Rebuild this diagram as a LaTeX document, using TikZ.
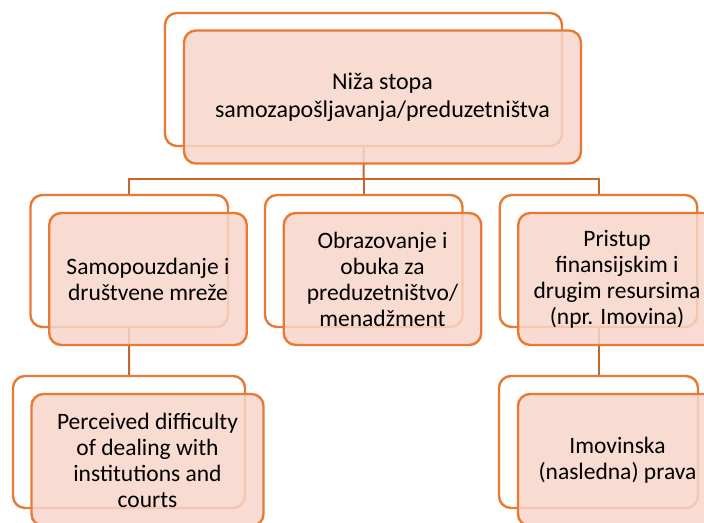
\documentclass[tikz,border=0pt]{standalone}
\usepackage{fontspec}
\setmainfont{Carlito}
\definecolor{boxline}{HTML}{E97A33}
\definecolor{connline}{HTML}{C8652A}
\definecolor{boxfill}{HTML}{F7D5CA}
\tikzset{
  backbox/.style={draw=boxline, line width=2.4pt, rounded corners=12pt, fill=white, inner sep=0pt},
  frontbox/.style={draw=boxline, line width=2.4pt, rounded corners=12pt, fill=boxfill, fill opacity=0.85, text opacity=1, inner sep=0pt, align=center, text=black, font=\fontsize{23.5}{26}\selectfont},
  conn/.style={draw=connline, line width=2pt}
}
\begin{document}
\begin{tikzpicture}[x=1pt,y=-1pt]
\useasboundingbox (0,0) rectangle (704,522);
\clip (0,0) rectangle (704,522);
% back boxes
\node[backbox, minimum width=397pt, minimum height=133pt] (b0) at (363.5,79.5) {};
\node[backbox, minimum width=197.5pt, minimum height=132pt] (b1) at (129.25,261) {};
\node[backbox, minimum width=197.5pt, minimum height=132pt] (b2) at (363.75,261) {};
\node[backbox, minimum width=197.5pt, minimum height=132pt] (b3) at (598.5,261) {};
\node[backbox, minimum width=232pt, minimum height=132pt] (b4) at (129,442) {};
\node[backbox, minimum width=199pt, minimum height=132pt] (b5) at (598.5,442) {};
% connectors
\coordinate (h0) at (363.6,179);
\draw[conn] (b0.south) -- (h0);
\draw[conn] (b1.north) |- (h0) -| (b3.north);
\draw[conn] (b2.north) -- (b2.north |- h0);
\draw[conn] (b1.south) -- (b4.north);
\draw[conn] (b3.south) -- (b5.north);
% front boxes
\node[frontbox, minimum width=397pt, minimum height=133pt, font=\fontsize{24}{28.3}\selectfont] (f0) at (382.5,97) {Niža stopa\\samozapošljavanja/preduzetništva};
\node[frontbox, minimum width=197.5pt, minimum height=132pt] (f1) at (148,279) {Samopouzdanje i\\društvene mreže};
\node[frontbox, minimum width=197.5pt, minimum height=132pt] (f2) at (382.5,279) {Obrazovanje i\\obuka za\\preduzetništvo/\\menadžment};
\node[frontbox, minimum width=197.5pt, minimum height=132pt] (f3) at (617,279) {Pristup\\finansijskim i\\drugim resursima\\(npr. Imovina)};
\node[frontbox, minimum width=232pt, minimum height=132pt] (f4) at (147.5,460) {Perceived difficulty\\of dealing with\\institutions and\\courts};
\node[frontbox, minimum width=199pt, minimum height=132pt] (f5) at (617.5,460) {Imovinska\\(nasledna) prava};
\end{tikzpicture}
\end{document}
